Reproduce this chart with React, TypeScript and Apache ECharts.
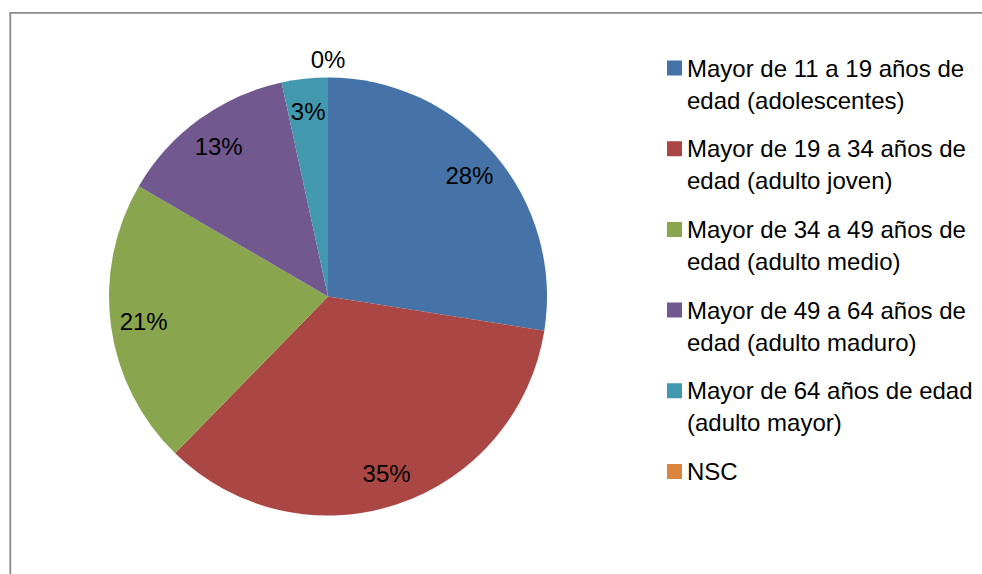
import React, { useEffect, useRef } from "react";
import * as echarts from "echarts";

const categories = [
  "Mayor de 11 a 19 años de\nedad (adolescentes)",
  "Mayor de 19 a 34 años de\nedad (adulto joven)",
  "Mayor de 34 a 49 años de\nedad (adulto medio)",
  "Mayor de 49 a 64 años de\nedad (adulto maduro)",
  "Mayor de 64 años de edad\n(adulto mayor)",
  "NSC",
];
const values = [27.5, 34.8, 21.1, 13.2, 3.4, 0];
const colors = ["#4572A7", "#AA4643", "#89A54E", "#71588F", "#4198AF", "#DB843D"];

const FONT = "Liberation Sans";
const CX = 328;
const CY = 296.5;
const R = 219;

export default function App() {
  const ref = useRef<HTMLDivElement>(null);
  useEffect(() => {
    if (!ref.current) return;
    const chart = echarts.init(ref.current, null, { renderer: "svg" });
    const fmt = (p: any) => `${Math.round(p.value)}%`;
    chart.setOption({
      animation: false,
      backgroundColor: "#fff",
      color: colors,
      graphic: [
        {
          type: "line",
          shape: { x1: 10.3, y1: 12.8, x2: 10.3, y2: 574 },
          style: { stroke: "#8a8a8a", lineWidth: 1.8 },
          silent: true,
        },
        {
          type: "line",
          shape: { x1: 9.4, y1: 12.8, x2: 982, y2: 12.8 },
          style: { stroke: "#8a8a8a", lineWidth: 1.8 },
          silent: true,
        },
      ],
      legend: {
        orient: "vertical",
        left: 667,
        top: 52,
        padding: 0,
        itemWidth: 15,
        itemHeight: 47,
        itemGap: 16.7,
        icon: "path://M0,0H15V15H0Z M0,47L15,47",
        itemStyle: { borderWidth: 0 },
        selectedMode: false,
        formatter: (name: string) => (name.indexOf("\n") >= 0 ? name : name + "\n "),
        textStyle: { fontFamily: FONT, fontSize: 24, lineHeight: 32, color: "#000" },
        data: categories,
      },
      series: [
        {
          type: "pie",
          center: [CX, CY],
          radius: [0, R],
          startAngle: 90,
          clockwise: true,
          avoidLabelOverlap: false,
          itemStyle: { borderWidth: 0 },
          emphasis: { disabled: true },
          label: { show: false },
          labelLine: { show: false },
          labelLayout: (p: any) => (p.dataIndex === 5 ? { align: "center" } : {}),
          data: categories.map((name, i) =>
            i === 5
              ? {
                  name,
                  value: values[i],
                  label: {
                    show: true,
                    position: "outside",
                    formatter: fmt,
                    distanceToLabelLine: 0,
                    fontFamily: FONT,
                    fontSize: 24,
                    color: "#000",
                  },
                  labelLine: { show: false, length: 18, length2: 0 },
                }
              : { name, value: values[i] }
          ),
        },
        {
          type: "pie",
          center: [CX, CY],
          radius: [0, 366],
          startAngle: 90,
          clockwise: true,
          silent: true,
          avoidLabelOverlap: false,
          itemStyle: { color: "rgba(0,0,0,0)", borderWidth: 0 },
          emphasis: { disabled: true },
          label: {
            show: true,
            position: "inside",
            formatter: fmt,
            fontFamily: FONT,
            fontSize: 24,
            color: "#000",
          },
          labelLine: { show: false },
          data: categories.map((name, i) =>
            i === 5 ? { name, value: values[i], label: { show: false } } : { name, value: values[i] }
          ),
        },
      ],
    });
    return () => chart.dispose();
  }, []);
  return (
    <div
      ref={ref}
      style={{ position: "fixed", left: 0, top: 0, width: 982, height: 574 }}
    />
  );
}
